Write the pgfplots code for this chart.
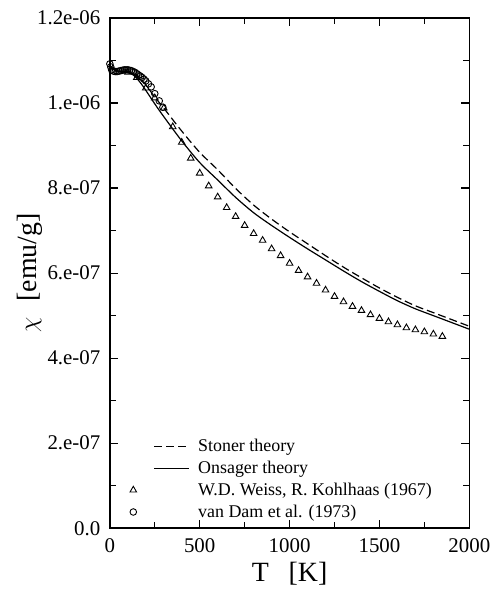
\documentclass[border=0pt]{standalone}
\usepackage{fontspec}
\setmainfont{Liberation Serif}
\usepackage{pgfplots}
\pgfplotsset{compat=1.18}
\pgfplotsset{
  linelegend/.style={legend image code/.code={\path[draw=none] (0bp,0bp) -- (66bp,0bp); \draw[##1] (24bp,0bp) -- (59bp,0bp);}},
  marklegend/.style={legend image code/.code={\path[draw=none] (0bp,0bp) -- (66bp,0bp); \draw[##1] plot[only marks] coordinates {(3bp,0bp)};}},
}
\begin{document}
\begin{tikzpicture}
\begin{axis}[
  scale only axis,
  width=360bp, height=511bp,
  xmin=0, xmax=2000, ymin=0, ymax=1.2e-6,
  axis line style={line width=1.6bp},
  xtick={0,500,1000,1500,2000},
  xticklabels={0,500,1000,1500,2000},
  minor xtick={250,750,1250,1750},
  ytick={0,2e-7,4e-7,6e-7,8e-7,1e-6,1.2e-6},
  yticklabels={0.0,2.e-07,4.e-07,6.e-07,8.e-07,1.e-06,1.2e-06},
  minor ytick={1e-7,3e-7,5e-7,7e-7,9e-7,1.1e-6},
  tick align=inside,
  major tick length=8bp, minor tick length=6bp,
  every tick/.style={line width=1.2bp, black},
  tick label style={font=\fontsize{21}{23}\selectfont},
  xticklabel style={yshift=-7bp},
  yticklabel style={xshift=-6bp},
  scaled y ticks=false,
  xlabel={T\hspace{20bp}[K]},
  ylabel={$\chi$\hspace{16bp}[emu/g]},
  label style={font=\fontsize{28}{30}\selectfont},
  xlabel style={at={(axis description cs:0.5,-0.09)}, anchor=center},
  ylabel style={at={(axis description cs:-0.222,0.5)}, anchor=center},
  legend cell align=left,
  legend style={at={(0.05,0.01)}, anchor=south west, draw=none, fill=none,
    font=\fontsize{18}{20}\selectfont, row sep=4bp, inner sep=2bp},
]
\addplot[black, line width=1.2bp, dash pattern=on 8bp off 4bp, smooth, linelegend]
coordinates {
(0,1.087e-6)(25,1.079e-6)(50,1.076e-6)(75,1.075e-6)(100,1.074e-6)(125,1.071e-6)(150,1.064e-6)(175,1.054e-6)(200,1.043e-6)(250,1.014e-6)(300,0.988e-6)(400,0.934e-6)(500,0.884e-6)(600,0.843e-6)(700,0.799e-6)(800,0.760e-6)(900,0.727e-6)(1000,0.697e-6)(1100,0.669e-6)(1200,0.641e-6)(1300,0.614e-6)(1400,0.589e-6)(1500,0.565e-6)(1600,0.543e-6)(1700,0.523e-6)(1800,0.507e-6)(1900,0.491e-6)(2000,0.475e-6)
};
\addlegendentry{Stoner theory}
\addplot[black, line width=1.2bp, smooth, linelegend]
coordinates {
(0,1.087e-6)(25,1.078e-6)(50,1.075e-6)(75,1.074e-6)(100,1.072e-6)(125,1.068e-6)(150,1.058e-6)(175,1.045e-6)(200,1.030e-6)(250,0.998e-6)(300,0.968e-6)(400,0.911e-6)(500,0.860e-6)(600,0.819e-6)(700,0.778e-6)(800,0.742e-6)(900,0.712e-6)(1000,0.684e-6)(1100,0.657e-6)(1200,0.631e-6)(1300,0.605e-6)(1400,0.580e-6)(1500,0.557e-6)(1600,0.535e-6)(1700,0.516e-6)(1800,0.500e-6)(1900,0.484e-6)(2000,0.468e-6)
};
\addlegendentry{Onsager theory}
\addplot[black, only marks, mark=triangle, mark size=3.8bp, mark options={line width=0.9bp}, marklegend]
coordinates {
(100,1.072e-6)(150,1.060e-6)(200,1.035e-6)(250,1.012e-6)
(300,0.988e-6)(350,0.944e-6)(400,0.9075e-6)(450,0.870e-6)(500,0.835e-6)(550,0.805e-6)(600,0.779e-6)(650,0.754e-6)(700,0.733e-6)(750,0.712e-6)(800,0.693e-6)(850,0.677e-6)(900,0.657e-6)(950,0.641e-6)(1000,0.623e-6)(1050,0.606e-6)(1100,0.591e-6)(1150,0.576e-6)(1200,0.560e-6)(1250,0.545e-6)(1300,0.5325e-6)(1350,0.5216e-6)(1400,0.512e-6)(1450,0.502e-6)(1500,0.4934e-6)(1550,0.4854e-6)(1600,0.4784e-6)(1650,0.4713e-6)(1700,0.4666e-6)(1750,0.4619e-6)(1800,0.4565e-6)(1850,0.4511e-6)
};
\addlegendentry{W.D. Weiss, R. Kohlhaas (1967)}
\addplot[black, only marks, mark=o, mark size=3.3bp, mark options={line width=0.9bp}, marklegend]
coordinates {
(0,1.092e-6)(5,1.085e-6)(10,1.078e-6)(20,1.075e-6)(30,1.074e-6)(40,1.074e-6)(50,1.075e-6)(60,1.076e-6)(70,1.077e-6)(80,1.078e-6)(90,1.078e-6)(100,1.078e-6)(110,1.077e-6)(120,1.076e-6)(130,1.074e-6)(140,1.072e-6)(150,1.069e-6)(160,1.066e-6)(170,1.063e-6)(180,1.060e-6)(190,1.056e-6)(200,1.052e-6)(215,1.045e-6)(230,1.038e-6)(250,1.022e-6)(275,1.005e-6)(295,0.990e-6)
};
\addlegendentry{van Dam et al. (1973)}
\end{axis}
\path (current axis.south west) ++(-110bp,-60bp);
\path (current axis.north east) ++(23bp,18bp);
\end{tikzpicture}
\end{document}
